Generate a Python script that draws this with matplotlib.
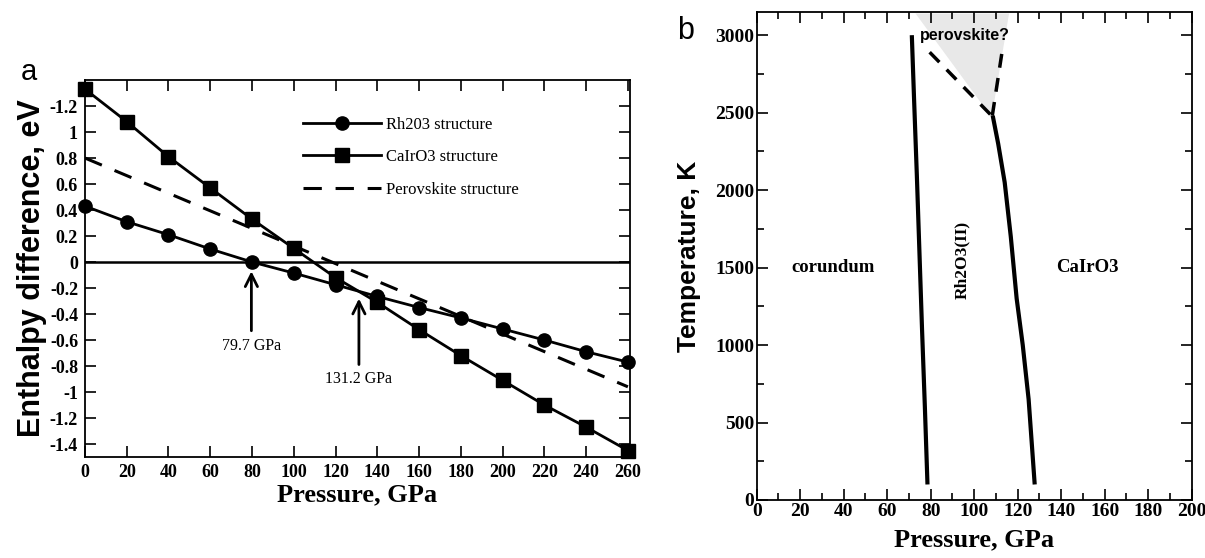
import matplotlib
matplotlib.use('Agg')
import matplotlib.pyplot as plt
from matplotlib.ticker import MultipleLocator

# Pannello a: differenza di entalpia
pressione = [0, 20, 40, 60, 80, 100, 120, 140, 160, 180, 200, 220, 240, 260]
rh2o3 = [0.43, 0.31, 0.21, 0.10, 0.0, -0.085, -0.175, -0.265, -0.35, -0.43, -0.515, -0.60, -0.69, -0.77]
cairo3 = [1.33, 1.08, 0.81, 0.57, 0.33, 0.105, -0.12, -0.31, -0.52, -0.72, -0.91, -1.10, -1.27, -1.45]
perov_p = [0, 260]
perov_h = [0.80, -0.96]
frecce = [(79.7, '79.7 GPa', -0.55, -0.05, -0.645), (131.2, '131.2 GPa', -0.81, -0.26, -0.90)]
y_ticks = [-1.4, -1.2, -1.0, -0.8, -0.6, -0.4, -0.2, 0, 0.2, 0.4, 0.6, 0.8, 1.0, 1.2]
y_labels = ['-1.4', '-1.2', '-1', '-0.8', '-0.6', '-0.4', '-0.2', '0', '0.2', '0.4', '0.6', '0.8', '1', '-1.2']

# Pannello b: diagramma di fase
sx_T = [100, 600, 1100, 1600, 2100, 2600, 3000]
sx_P = [78.5, 77.3, 76.0, 74.8, 73.6, 72.3, 71.3]
dx_T = [100, 650, 1000, 1300, 1700, 2050, 2300, 2480]
dx_P = [127.8, 125.0, 122.3, 119.5, 116.8, 114.0, 111.0, 108.5]
pv_sx_P = [79.5, 108.0]
pv_sx_T = [2890, 2480]
pv_dx_P = [108.3, 113.2]
pv_dx_T = [2480, 2930]
zona_P = [73, 116, 108]
zona_T = [3140, 3140, 2470]

serif = 'Liberation Serif'
sans = 'Liberation Sans'

fig = plt.figure(figsize=(12.05, 5.58), dpi=100)

# ---- pannello a ----
ax = fig.add_axes([0.0705, 0.181, 0.4523, 0.6756])
ax.plot(perov_p, perov_h, color='black', lw=2.2, dashes=(6, 4.5), label='Perovskite structure', zorder=2)
ax.axhline(0, color='black', lw=1.8, zorder=1)
ax.plot(pressione, rh2o3, color='black', lw=2, marker='o', ms=9.5, label='Rh203 structure', clip_on=False, zorder=3)
ax.plot(pressione, cairo3, color='black', lw=2, marker='s', ms=10.5, label='CaIrO3 structure', clip_on=False, zorder=3)
ax.set_xlim(0, 261)
ax.set_ylim(-1.5, 1.4)
ax.set_xticks(range(0, 261, 20))
ax.set_yticks(y_ticks)
ax.set_yticklabels(y_labels)
ax.tick_params(direction='in', length=8, width=1.2, top=True, right=True, labelsize=13, pad=5)
for lab in ax.get_xticklabels() + ax.get_yticklabels():
    lab.set_fontfamily(serif)
    lab.set_fontweight('bold')
for s in ax.spines.values():
    s.set_linewidth(1.3)

for x, testo, y0, y1, ytxt in frecce:
    ax.annotate('', xy=(x, y1), xytext=(x, y0),
                arrowprops=dict(arrowstyle='->', lw=2, color='black', mutation_scale=22))
    ax.text(x, ytxt, testo, ha='center', va='center', fontsize=11.5, family=serif)

handles, labels = ax.get_legend_handles_labels()
ordine = [1, 2, 0]
ax.legend([handles[i] for i in ordine], [labels[i] for i in ordine],
          loc='upper left', bbox_to_anchor=(0.388, 0.92), frameon=False,
          prop={'family': serif, 'size': 12}, handlelength=4.7, handletextpad=0.25,
          labelspacing=0.98, borderaxespad=0)

ax.set_xlabel('Pressure, GPa', fontsize=19, fontweight='bold', family=serif, labelpad=2)
ax.set_ylabel('Enthalpy difference, eV', fontsize=22, fontweight='bold', family=sans, labelpad=2)
fig.text(0.017, 0.857, 'a', fontsize=21, family=sans)

# ---- pannello b ----
bx = fig.add_axes([0.628, 0.104, 0.361, 0.8746])
bx.fill(zona_P, zona_T, color='#e8e8e8', lw=0, zorder=0)
bx.plot(sx_P, sx_T, color='black', lw=3, solid_capstyle='butt')
bx.plot(dx_P, dx_T, color='black', lw=3, solid_capstyle='butt')
bx.plot(pv_sx_P, pv_sx_T, color='black', lw=2.5, dashes=(4, 3))
bx.plot(pv_dx_P, pv_dx_T, color='black', lw=2.5, dashes=(4, 3))
bx.set_xlim(0, 200)
bx.set_ylim(0, 3150)
bx.xaxis.set_major_locator(MultipleLocator(20))
bx.xaxis.set_minor_locator(MultipleLocator(10))
bx.yaxis.set_major_locator(MultipleLocator(500))
bx.yaxis.set_minor_locator(MultipleLocator(250))
bx.tick_params(which='both', direction='in', top=True, right=True, labelsize=14, pad=2)
bx.tick_params(which='major', length=8, width=1.2)
bx.tick_params(which='minor', length=5, width=1.2)
for lab in bx.get_xticklabels() + bx.get_yticklabels():
    lab.set_fontfamily(serif)
    lab.set_fontweight('bold')
for s in bx.spines.values():
    s.set_linewidth(1.3)

bx.text(35, 1500, 'corundum', ha='center', va='center', fontsize=13.5, fontweight='bold', family=serif)
bx.text(94.5, 1550, 'Rh2O3(II)', ha='center', va='center', rotation=90, fontsize=12.5, fontweight='bold', family=serif)
bx.text(152, 1500, 'CaIrO3', ha='center', va='center', fontsize=13.5, fontweight='bold', family=serif)
bx.text(75, 2995, 'perovskite?', ha='left', va='center', fontsize=11.5, fontweight='bold', family=sans)

bx.set_xlabel('Pressure, GPa', fontsize=19, fontweight='bold', family=serif, labelpad=6)
bx.set_ylabel('Temperature, K', fontsize=19, fontweight='bold', family=sans, labelpad=10)
fig.text(0.562, 0.93, 'b', fontsize=22, family=sans)

fig.savefig('out.png', dpi=100)
